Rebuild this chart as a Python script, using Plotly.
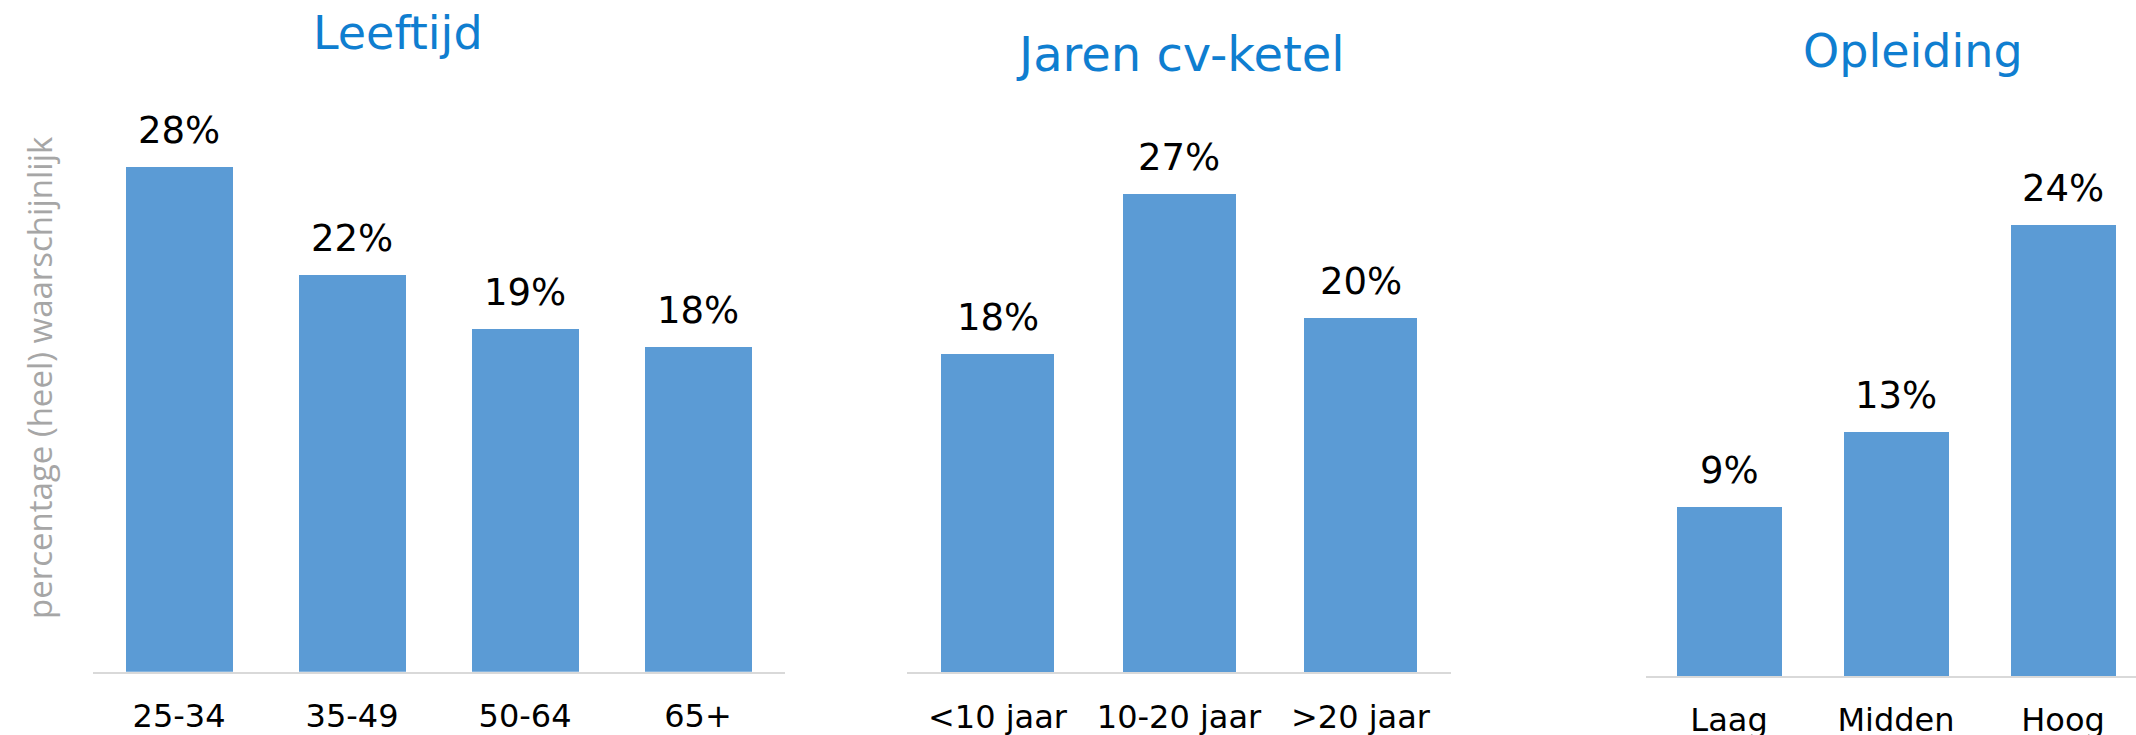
import plotly.graph_objects as go

# ---- data ----
leeftijd_cats = ["25-34", "35-49", "50-64", "65+"]
leeftijd_vals = [28, 22, 19, 18]
ketel_cats = ["<10 jaar", "10-20 jaar", ">20 jaar"]
ketel_vals = [18, 27, 20]
opleiding_cats = ["Laag", "Midden", "Hoog"]
opleiding_vals = [9, 13, 24]
panel_titles = ["Leeftijd", "Jaren cv-ketel", "Opleiding"]
y_title = "percentage (heel) waarschijnlijk"

W, H = 2136, 735
BAR = "#5b9bd5"
TITLE_C = "#0f7ed0"
FONT = "DejaVu Sans"

panels = [
    dict(cats=leeftijd_cats, vals=leeftijd_vals, xd=[92.5, 784.5], xr=[-0.5, 3.5], base=671.7, ppu=18.04, w=0.624),
    dict(cats=ketel_cats, vals=ketel_vals, xd=[906.75, 1451.25], xr=[-0.5, 2.5], base=672.3, ppu=17.7, w=0.62),
    dict(cats=opleiding_cats, vals=opleiding_vals, xd=[1645.5, 2136], xr=[-0.5, 2.437], base=676.0, ppu=18.8, w=0.63),
]
title_pos = [(398, 33, 46), (1180, 54, 48), (1913, 51, 46)]

fig = go.Figure()
annotations = []
layout = {}
for i, p in enumerate(panels):
    n = "" if i == 0 else str(i + 1)
    xa, ya = "x" + n, "y" + n
    fig.add_trace(go.Bar(x=p["cats"], y=p["vals"], marker=dict(color=BAR, line=dict(width=0)),
                         width=p["w"], xaxis=xa, yaxis=ya, showlegend=False, hoverinfo="x+y"))
    layout["xaxis" + n] = dict(domain=[p["xd"][0] / W, min(p["xd"][1] / W, 1)], range=p["xr"],
                               anchor=ya, showgrid=False, zeroline=False, showline=True,
                               linecolor="#d9d9d9", linewidth=2, ticks="", automargin=False,
                               tickfont=dict(family=FONT, size=32, color="#000000"),
                               ticklabelstandoff=15, fixedrange=True)
    ymax = p["base"] / p["ppu"]
    layout["yaxis" + n] = dict(domain=[1 - p["base"] / H, 1], range=[0, ymax], anchor=xa,
                               visible=False, showgrid=False, zeroline=False, fixedrange=True,
                               automargin=False)
    for c, v in zip(p["cats"], p["vals"]):
        annotations.append(dict(x=c, y=v, xref=xa, yref=ya, text=f"{v}%", showarrow=False,
                                yanchor="bottom", yshift=13,
                                font=dict(family=FONT, size=37, color="#000000")))
    tx, ty, ts = title_pos[i]
    annotations.append(dict(x=tx / W, y=1 - ty / H, xref="paper", yref="paper", text=panel_titles[i],
                            showarrow=False, xanchor="center", yanchor="middle",
                            font=dict(family=FONT, size=ts, color=TITLE_C)))

annotations.append(dict(x=40 / W, y=1 - 378 / H, xref="paper", yref="paper", text=y_title,
                        showarrow=False, textangle=-90, xanchor="center", yanchor="middle",
                        font=dict(family="Open Sans", size=33, color="#a6a6a6")))

fig.update_layout(width=W, height=H, margin=dict(l=0, r=0, t=0, b=0, autoexpand=False),
                  paper_bgcolor="white", plot_bgcolor="white",
                  annotations=annotations, bargap=0, **layout)
fig.write_html("out.html", config={"displayModeBar": False},
               post_script="document.body.style.margin='0';document.body.style.overflow='hidden';")
